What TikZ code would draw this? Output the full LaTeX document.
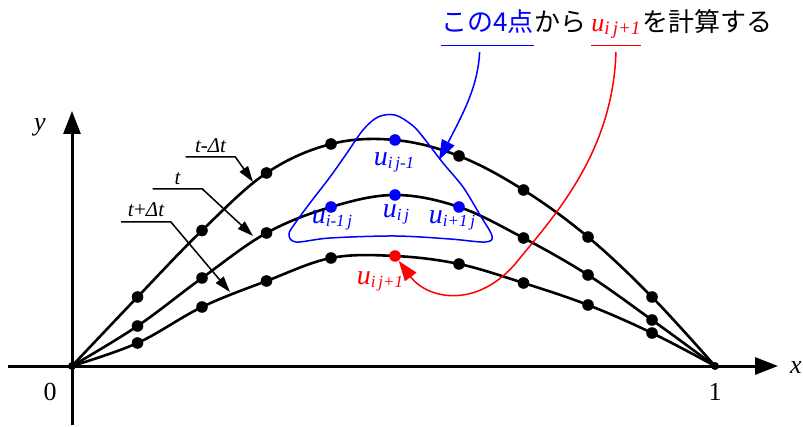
\documentclass[tikz,border=0pt]{standalone}
\usepackage{fontspec}
\setmainfont{Liberation Serif}
\newfontfamily\jpfont{Noto Sans CJK JP}
\usetikzlibrary{positioning,arrows.meta}

\newcommand{\usub}[2][8.5]{\textit{u}\raisebox{-1.5pt}{\fontsize{#1}{#1}\selectfont\itshape #2}}

\begin{document}
\begin{tikzpicture}[
  x=0.5pt, y=-0.5pt,
  font=\fontsize{13}{15}\selectfont,
  curve/.style={line width=1.3pt, draw=black},
  axisline/.style={line width=1.5pt, -{Triangle[length=11.5pt,width=8.5pt]}},
  dot/.style={circle, fill=black, inner sep=0pt, minimum size=5.8pt},
  enddot/.style={dot, minimum size=4pt},
  bdot/.style={dot, fill=blue},
  rdot/.style={dot, fill=red},
  ulab/.style={font=\fontsize{14}{16}\selectfont, text=blue, anchor=base, inner sep=0pt},
  tlab/.style={font=\fontsize{10.5}{12}\selectfont\itshape, anchor=base,
               inner sep=0pt, minimum width=24.5pt},
  headtxt/.style={font=\fontsize{13}{15}\selectfont, inner sep=0pt},
  arr/.style={-{Triangle[length=8pt,width=5pt]}, line width=0.75pt},
  carr/.style={-{Triangle[length=10pt,width=7pt]}, line width=0.75pt}
]
\useasboundingbox (0,0) rectangle (803,427);

% axes
\coordinate (xs) at (8,366);
\coordinate (xe) at (778,366);
\coordinate (ys) at (72,425);
\coordinate (ye) at (72,111);
\draw[axisline] (xs) -- (xe);
\draw[axisline] (ys) -- (ye);
\node (xlab) at (796,368) {\textit{x}};
\node (ylab) at (40,127) {\textit{y}};
\node (zero) at (50,392) {0};
\node (one)  at (715,392) {1};

% grid points: a = t-dt, b = t, c = t+dt
\foreach \n/\x/\ya/\yb/\yc in {0/72/366/366/366, 1/137.5/297/326/343,
    2/202/230.5/278/307, 3/266.5/173/233/281, 4/331/144/207/258,
    5/395/140/195/256, 6/459/156/207/264, 7/523.5/190/238/283,
    8/588/237/275/305, 9/652/297/320/333, 10/715/366/366/366}
{
  \coordinate (a\n) at (\x,\ya);
  \coordinate (b\n) at (\x,\yb);
  \coordinate (c\n) at (\x,\yc);
}

\draw[curve] plot[smooth, tension=0.6] coordinates
  {(a0) (a1) (a2) (a3) (a4) (a5) (a6) (a7) (a8) (a9) (a10)};
\draw[curve] plot[smooth, tension=0.6] coordinates
  {(b0) (b1) (b2) (b3) (b4) (b5) (b6) (b7) (b8) (b9) (b10)};
\draw[curve] plot[smooth, tension=0.6] coordinates
  {(c0) (c1) (c2) (c3) (c4) (c5) (c6) (c7) (c8) (c9) (c10)};

% the four points
\draw[blue, line width=0.75pt] plot[smooth cycle, tension=0.55] coordinates
  {(395,115) (412,125) (423,137) (443,163) (463,187) (480,215) (492,236)
   (485,242) (450,239) (395,236) (330,238) (296,242) (289,234) (296,222)
   (310,203) (330,177) (347,153) (363,130) (378,117)};

\foreach \p in {a1,a2,a3,a4,a6,a7,a8,a9,b1,b2,b3,b7,b8,b9,c1,c2,c3,c4,c6,c7,c8,c9}
  \node[dot] (d\p) at (\p) {};
\node[enddot] (dorig) at (a0) {};
\node[enddot] (dend) at (a10) {};
\node[bdot] (pup) at (a5) {};
\node[bdot] (pleft) at (b4) {};
\node[bdot] (pmid) at (b5) {};
\node[bdot] (pright) at (b6) {};
\node[rdot] (pnew) at (c5) {};

\node[ulab] (lup)    at (394,166) {\usub{i\,j-1}};
\node[ulab] (lleft)  at (332,224) {\usub{i-1\,j}};
\node[ulab] (lmid)   at (396,218) {\usub{i\,j}};
\node[ulab] (lright) at (452,224) {\usub{i+1\,j}};
\node[ulab, text=red] (lnew) at (380,285) {\usub{i\,j+1}};

% time labels
\node[tlab] (tm) at (210.5,153) {t-Δt};
\node[tlab] (t0) at (177.5,185) {t};
\node[tlab] (tp) at (146,217) {t\textup{+}Δt};
\coordinate (tipm) at (253,182);
\coordinate (tip0) at (253,236);
\coordinate (tipp) at (230,292);
\draw[arr] ([yshift=-2pt]tm.base west) -- ([yshift=-2pt]tm.base east) -- (tipm);
\draw[arr] ([yshift=-2pt]t0.base west) -- ([yshift=-2pt]t0.base east) -- (tip0);
\draw[arr] ([yshift=-2.5pt]tp.base west) -- ([yshift=-2.5pt]tp.base east) -- (tipp);

% heading
\node[headtxt, text=blue, anchor=base west] (four) at (441,32) {\jpfont この4点};
\node[headtxt, base right=0pt of four] (kara) {\jpfont から};
\node[headtxt, text=red, base right=2pt of kara] (uhead) {\usub[9.5]{i\,j+1}};
\node[headtxt, base right=0.5pt of uhead] (rest) {\jpfont を計算する};
\draw[blue, line width=0.6pt] ([yshift=-6.8pt]four.base west) -- ([yshift=-6.8pt]four.base east);
\draw[red, line width=0.6pt] ([yshift=-6.8pt]uhead.base west) -- ([yshift=-6.8pt]uhead.base east);

\coordinate (qtip) at (439,160);
\draw[carr, blue] ([xshift=-4pt,yshift=-10pt]four.base) .. controls (478,85) and (465,110) .. (qtip);
\draw[carr, red] ([yshift=-10pt]uhead.base) .. controls (613,150) and (557,213) .. (520,258)
  .. controls (480,310) and (428,300) .. (pnew);
\end{tikzpicture}
\end{document}
